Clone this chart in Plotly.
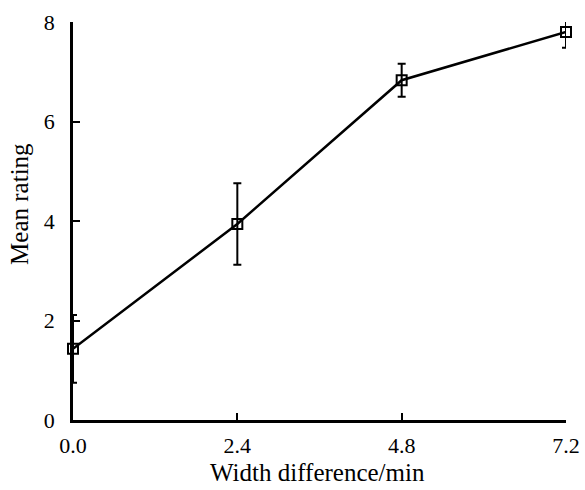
import plotly.graph_objects as go

width_diff = [0.0, 2.4, 4.8, 7.2]
mean_rating = [1.43, 3.94, 6.83, 7.80]
rating_err = [0.68, 0.82, 0.33, 0.32]
x_ticks = [0.0, 2.4, 4.8, 7.2]
x_tick_labels = ["0.0", "2.4", "4.8", "7.2"]
y_ticks = [0, 2, 4, 6, 8]

FONT = "Liberation Serif"

fig = go.Figure()
fig.add_trace(go.Scatter(
    x=width_diff, y=mean_rating,
    mode="lines+markers",
    line=dict(color="black", width=2.5),
    marker=dict(symbol="square-open", size=10, color="black", line=dict(width=2)),
    error_y=dict(type="data", array=rating_err, visible=True,
                 color="black", thickness=2, width=4),
    cliponaxis=False,
    showlegend=False,
))

fig.update_layout(
    width=585, height=490,
    margin=dict(l=73, r=19, t=22, b=70),
    paper_bgcolor="white", plot_bgcolor="white",
    font=dict(family=FONT, size=22, color="black"),
    xaxis=dict(
        range=[0, 7.2], tickvals=x_ticks, ticktext=x_tick_labels,
        showgrid=False, zeroline=False, automargin=False,
        showline=True, linecolor="black", linewidth=2.5,
        ticks="inside", ticklen=7, tickwidth=2, tickcolor="black",
        ticklabelstandoff=4,
    ),
    yaxis=dict(
        range=[0, 8], tickvals=y_ticks,
        showgrid=False, zeroline=False, automargin=False,
        showline=True, linecolor="black", linewidth=2.5,
        ticks="inside", ticklen=7, tickwidth=2, tickcolor="black",
        ticklabelstandoff=11,
    ),
    annotations=[
        dict(
            text="Mean rating", textangle=-90, showarrow=False,
            xref="paper", yref="paper", x=-0.1075, y=0.543,
            xanchor="center", yanchor="middle",
            font=dict(family=FONT, size=25, color="black"),
        ),
        dict(
            text="Width difference/min", showarrow=False,
            xref="paper", yref="paper", x=0.496, y=-0.131,
            xanchor="center", yanchor="middle",
            font=dict(family=FONT, size=25, color="black"),
        ),
    ],
)

fig.write_html("out.html")
